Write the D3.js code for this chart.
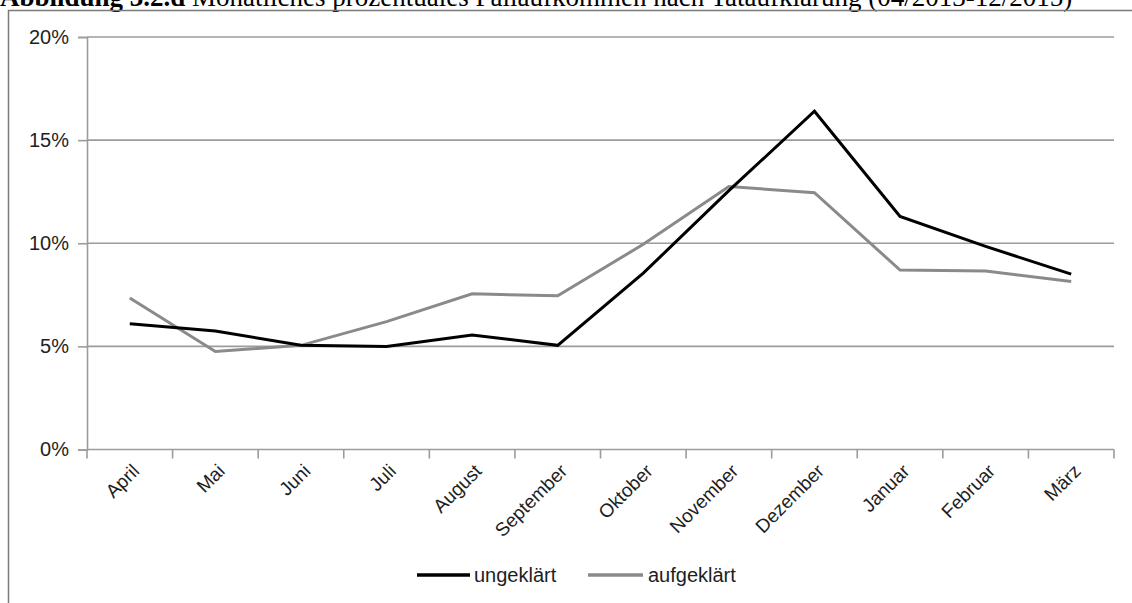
<!DOCTYPE html>
<html>
<head>
<meta charset="utf-8">
<script src="https://cdn.jsdelivr.net/npm/d3@7"></script>
<style>
  html, body { margin: 0; padding: 0; background: #fff; }
  svg { display: block; }
</style>
</head>
<body>
<svg id="chart" width="1132" height="603"></svg>
<script>
// Monthly share of cases (%), by clearance status
const months = ["April", "Mai", "Juni", "Juli", "August", "September",
                "Oktober", "November", "Dezember", "Januar", "Februar", "März"];
const ungeklaert = [6.1, 5.75, 5.05, 5.0, 5.55, 5.05, 8.55, 12.55, 16.4, 11.3, 9.85, 8.5];
const aufgeklaert = [7.35, 4.75, 5.05, 6.2, 7.55, 7.45, 9.95, 12.75, 12.45, 8.7, 8.65, 8.15];
const yTicks = [0, 5, 10, 15, 20];
const seriesNames = ["ungeklärt", "aufgeklärt"];

const svg = d3.select("#chart");
const W = 1132, H = 603;

const plot = { left: 87, right: 1114, top: 37, bottom: 449.5 };

const x = d3.scaleBand().domain(months).range([plot.left, plot.right]);
const y = d3.scaleLinear().domain([0, 20]).range([plot.bottom, plot.top]);

// Caption (partly clipped by the top of the page)
const title = svg.append("text")
  .attr("x", 0).attr("y", 6)
  .attr("font-family", "'Liberation Serif', 'Times New Roman', serif")
  .attr("font-size", 27)
  .attr("fill", "#000");
title.append("tspan").attr("font-weight", "bold").text("Abbildung 3.2.d");
title.append("tspan").text(" Monatliches prozentuales Fallaufkommen nach Tataufklärung (04/2013-12/2015)");

// Chart frame (left and top edges visible)
svg.append("path")
  .attr("d", `M8.5,${H} L8.5,10.5 L${W},10.5`)
  .attr("fill", "none")
  .attr("stroke", "#7a7a7a")
  .attr("stroke-width", 1.5);

const gridColor = "#9c9c9c";

// Horizontal gridlines
svg.append("g").selectAll("line")
  .data(yTicks.filter(d => d > 0))
  .join("line")
  .attr("x1", plot.left).attr("x2", plot.right)
  .attr("y1", d => y(d)).attr("y2", d => y(d))
  .attr("stroke", gridColor).attr("stroke-width", 1.6);

// Y axis
const yAxis = d3.axisLeft(y)
  .tickValues(yTicks)
  .tickSize(9)
  .tickPadding(9)
  .tickFormat(d => d + "%");
const gy = svg.append("g").attr("transform", `translate(${plot.left},0)`).call(yAxis);
gy.select(".domain").attr("stroke", gridColor).attr("stroke-width", 1.6);
gy.selectAll(".tick line").attr("stroke", gridColor).attr("stroke-width", 1.6);
gy.selectAll(".tick text")
  .attr("font-family", "'Liberation Sans', Arial, sans-serif")
  .attr("font-size", 20)
  .attr("fill", "#1e1e1e");

// X axis: baseline with ticks at category boundaries
const gx = svg.append("g");
gx.append("line")
  .attr("x1", plot.left).attr("x2", plot.right)
  .attr("y1", y(0)).attr("y2", y(0))
  .attr("stroke", gridColor).attr("stroke-width", 1.6);
const boundaries = months.map(m => x(m)).concat([x.range()[1]]);
gx.selectAll("line.tick")
  .data(boundaries)
  .join("line")
  .attr("class", "tick")
  .attr("x1", d => d).attr("x2", d => d)
  .attr("y1", y(0)).attr("y2", y(0) + 9)
  .attr("stroke", gridColor).attr("stroke-width", 1.6);
gx.selectAll("text")
  .data(months)
  .join("text")
  .attr("transform", d => `translate(${x(d) + x.bandwidth() / 2 + 6},${y(0) + 18}) rotate(-45)`)
  .attr("text-anchor", "end")
  .attr("dy", "0.35em")
  .attr("font-family", "'Liberation Sans', Arial, sans-serif")
  .attr("font-size", 19)
  .attr("fill", "#1e1e1e")
  .text(d => d);

// Lines
const line = d3.line()
  .x((d, i) => x(months[i]) + x.bandwidth() / 2)
  .y(d => y(d));

const colors = { "ungeklärt": "#000000", "aufgeklärt": "#8a8a8a" };
const seriesData = [ungeklaert, aufgeklaert];

svg.append("g").selectAll("path")
  .data(seriesData.map((v, i) => ({ name: seriesNames[i], values: v })).reverse())
  .join("path")
  .attr("d", d => line(d.values))
  .attr("fill", "none")
  .attr("stroke", d => colors[d.name])
  .attr("stroke-width", 3)
  .attr("stroke-linejoin", "miter");

// Legend
const legendItems = [
  { name: "ungeklärt", x0: 417, x1: 470, tx: 474 },
  { name: "aufgeklärt", x0: 588, x1: 643, tx: 648 }
];
const lg = svg.append("g");
lg.selectAll("line")
  .data(legendItems)
  .join("line")
  .attr("x1", d => d.x0).attr("x2", d => d.x1)
  .attr("y1", 575).attr("y2", 575)
  .attr("stroke", d => colors[d.name])
  .attr("stroke-width", 3.5);
lg.selectAll("text")
  .data(legendItems)
  .join("text")
  .attr("x", d => d.tx).attr("y", 582)
  .attr("font-family", "'Liberation Sans', Arial, sans-serif")
  .attr("font-size", 20)
  .attr("fill", "#1e1e1e")
  .text(d => d.name);
</script>
</body>
</html>
